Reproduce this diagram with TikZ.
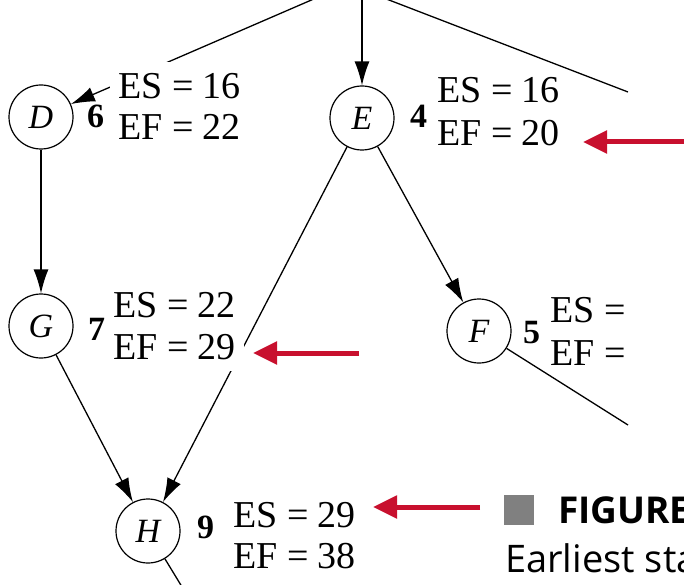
\documentclass[tikz,border=0pt]{standalone}
\usepackage{fontspec}
\setmainfont{Liberation Serif}
\newfontfamily\capfont{Open Sans}
\usetikzlibrary{arrows.meta}
\definecolor{markred}{RGB}{200,16,46}
\definecolor{capgray}{RGB}{128,128,128}
\begin{document}
\begin{tikzpicture}[x=1pt,y=-1pt,
  act/.style={circle, draw, line width=1.2pt, minimum size=64pt, inner sep=0pt,
    font=\fontsize{34}{34}\selectfont\itshape},
  dur/.style={anchor=base west, inner sep=0pt, font=\fontsize{34}{34}\selectfont\bfseries},
  times/.style={anchor=base west, inner sep=0pt, font=\fontsize{38}{42}\selectfont},
  masked/.style={times, fill=white, inner xsep=8pt, inner ysep=4pt, text height=29pt, text depth=8pt},
  link/.style={line width=1.3pt},
  prec/.style={link, -{Latex[length=24pt,width=15pt]}},
  hilite/.style={draw=markred, line width=5pt, -{Triangle[length=24pt,width=22pt]}, markred},
  capt/.style={anchor=base west, inner sep=0pt, font=\capfont\fontsize{38}{38}\selectfont},
]
\useasboundingbox (0,0) rectangle (684,585);
\clip (0,0) rectangle (684,585);

% activities
\node[act] (D) at (41,117) {D};
\node[act] (E) at (362,118) {E};
\node[act] (G) at (41,326) {G};
\node[act] (F) at (479,331) {F};
\node[act] (H) at (148,531) {H};

% loose ends of connectors leaving the drawn area
\coordinate (toD) at (323,-5);
\coordinate (toE) at (362,-5);
\coordinate (topR1) at (376,-5);
\coordinate (topR2) at (628,92);
\coordinate (outF) at (628,425);
\coordinate (outH) at (190,600);

% precedence connectors
\draw[prec] (toD) -- (D);
\draw[prec] (toE) -- (E);
\draw[link] (topR1) -- (topR2);
\draw[prec] (D) -- (G);
\draw[prec] (E) -- (F);
\draw[prec] (E) -- (H);
\draw[prec] (G) -- (H);
\draw[link] (F) -- (outF);
\draw[link] (H) -- (outH);

% durations
\node[dur] (dD) at (87,128) {6};
\node[dur] (dE) at (410,128) {4};
\node[dur] (dG) at (88,340) {7};
\node[dur] (dF) at (523,343) {5};
\node[dur] (dH) at (197,538) {9};

% earliest start / finish (white backing hides the connectors behind them)
\node[masked, text height=33pt] (esD) at (110,99) {ES = 16};
\node[masked] (efD) at (110,140) {EF = 22};
\node[times] (esE) at (437,103) {ES = 16};
\node[times] (efE) at (437,146) {EF = 20};
\node[masked] (esG) at (105,317) {ES = 22};
\node[masked] (efG) at (105,359) {EF = 29};
\node[times] (esF) at (550,322) {ES =};
\node[times] (efF) at (550,365) {EF =};
\node[times] (esH) at (233,527) {ES = 29};
\node[times] (efH) at (233,568) {EF = 38};

% highlight arrows
\coordinate (m1a) at (690,142);
\coordinate (m1b) at (583,142);
\coordinate (m2a) at (359,353);
\coordinate (m2b) at (253,353);
\coordinate (m3a) at (480,507);
\coordinate (m3b) at (373,507);
\draw[hilite] (m1a) -- (m1b);
\draw[hilite] (m2a) -- (m2b);
\draw[hilite] (m3a) -- (m3b);

% caption
\node[fill=capgray, minimum size=30pt, inner sep=0pt, anchor=north west] (sq) at (504,495) {};
\node[capt, font=\capfont\bfseries\fontsize{37}{37}\selectfont] (capA) at (558,523) {FIGURE};
\node[capt] (capB) at (505,572) {Earliest sta};
\end{tikzpicture}
\end{document}
